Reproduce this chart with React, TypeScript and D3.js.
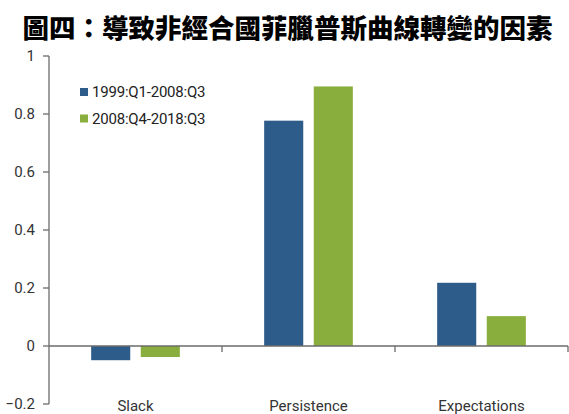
import React from "react";
import * as d3 from "d3";

const title = "圖四：導致非經合國菲臘普斯曲線轉變的因素";
const categories = ["Slack", "Persistence", "Expectations"];
const seriesNames = ["1999:Q1-2008:Q3", "2008:Q4-2018:Q3"];
const series1 = [-0.049, 0.777, 0.218];
const series2 = [-0.038, 0.895, 0.103];
const yTicks = [-0.2, 0, 0.2, 0.4, 0.6, 0.8, 1];
const colors = ["#2E5C8A", "#8AAE3E"];

export default function App() {
  const W = 569, H = 414;
  const x0 = 49, x1 = 568;
  const y = d3.scaleLinear().domain([-0.2, 1]).range([404, 56]);
  const xb = d3.scaleBand().domain(categories).range([x0, x1]).paddingInner(0).paddingOuter(0);
  const xs = d3.scaleBand().domain(["0", "1"]).range([0, xb.bandwidth()]).paddingInner(0.212).paddingOuter(0.85);
  const data = [series1, series2];
  const font = "Roboto, 'Noto Sans', sans-serif";
  const axisColor = "#6b6b6b";
  return (
    <svg width={W} height={H} style={{ position: "absolute", left: 0, top: 0, background: "#fff" }}>
      <text x={287.5} y={38} textAnchor="middle" fontFamily="'Noto Sans CJK TC', sans-serif" fontWeight={900} fontSize={26.5} fill="#000">{title}</text>
      {data.map((s, si) =>
        s.map((v, ci) => {
          const bx = (xb(categories[ci]) as number) + (xs(String(si)) as number);
          const top = y(Math.max(0, v));
          const h = Math.abs(y(v) - y(0));
          return <rect key={si + "-" + ci} x={bx} y={top} width={xs.bandwidth()} height={h} fill={colors[si]} />;
        })
      )}
      {/* y axis */}
      <line x1={x0} x2={x0} y1={y(1)} y2={y(-0.2)} stroke={axisColor} strokeWidth={1.3} />
      {yTicks.map((t) => (
        <g key={t}>
          <line x1={x0 - 6} x2={x0} y1={y(t)} y2={y(t)} stroke={axisColor} strokeWidth={1.3} />
          <text x={35} y={y(t) + 5} textAnchor="end" fontFamily={font} fontSize={15} fill="#333">{d3.format("")(Number(t.toFixed(1)))}</text>
        </g>
      ))}
      {/* x axis at zero */}
      <line x1={x0} x2={x1} y1={y(0)} y2={y(0)} stroke={axisColor} strokeWidth={1.3} />
      {categories.map((c, i) => {
        const bx = (xb(c) as number) + xb.bandwidth();
        return <line key={"t" + i} x1={bx} x2={bx} y1={y(0)} y2={y(0) + 6} stroke={axisColor} strokeWidth={1.3} />;
      })}
      {categories.map((c) => (
        <text key={c} x={(xb(c) as number) + xb.bandwidth() / 2} y={411} textAnchor="middle" fontFamily={font} fontSize={15} fill="#333">{c}</text>
      ))}
      {/* legend */}
      {seriesNames.map((n, i) => (
        <g key={n}>
          <rect x={80} y={92 + i * 26.5 - 4} width={8} height={8} fill={colors[i]} />
          <text x={92} y={92 + i * 26.5 + 5} fontFamily={font} fontSize={15} fill="#222" letterSpacing={-0.2}>{n}</text>
        </g>
      ))}
    </svg>
  );
}
